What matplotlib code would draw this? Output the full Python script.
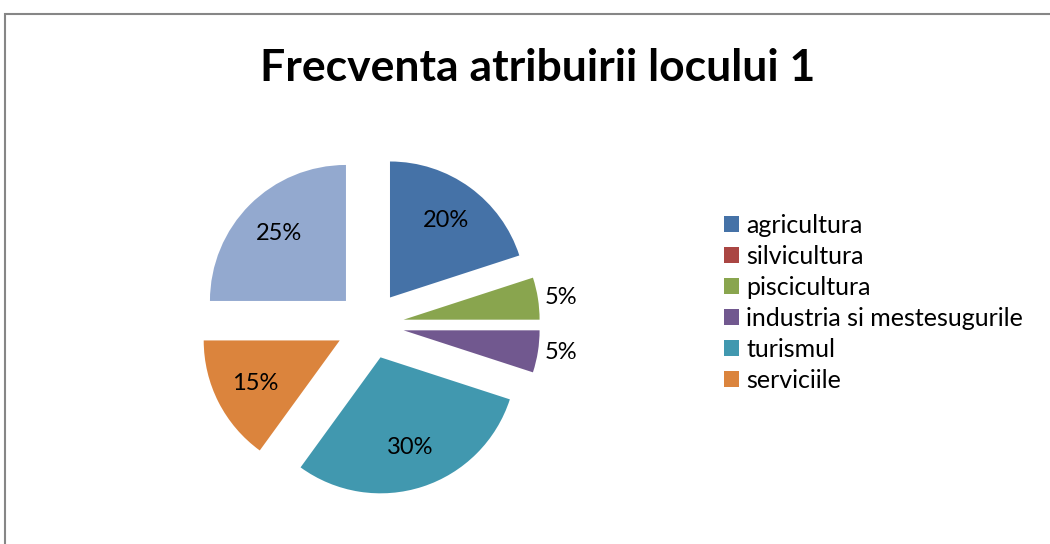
import numpy as np
import matplotlib.pyplot as plt
from matplotlib.patches import Rectangle

categories = ['agricultura', 'silvicultura', 'piscicultura',
              'industria si mestesugurile', 'turismul', 'serviciile', 'altele']
shares = [20, 0, 5, 5, 30, 15, 25]
colors = ['#4572A7', '#AA4643', '#89A54E', '#71588F', '#4198AF', '#DB843D', '#93A9CF']
n_legend = 6  # last category has no legend entry

plt.rcParams['font.family'] = ['Lato', 'DejaVu Sans']

fig = plt.figure(figsize=(10.5, 5.44), dpi=100)
W, H = 1050, 544

# chart frame (runs off the right and bottom edges)
fig.patches.append(Rectangle((5 / W, -0.1), 2, (H - 14) / H + 0.1,
                             transform=fig.transFigure, fill=False,
                             edgecolor='#868686', linewidth=1.5))

fig.text(538 / W, 1 - 68 / H, 'Frecventa atribuirii locului 1',
         ha='center', va='center', fontsize=32, fontweight='bold')

# pie axes: radius 1 -> 136 px, centre at (370, 325) px
cx, cy, half = 370, 325, 272
ax = fig.add_axes([(cx - half) / W, (H - cy - half) / H, 2 * half / W, 2 * half / H])

explode = [0.25] * len(shares)
wedges, texts, autotexts = ax.pie(
    shares, colors=colors, explode=explode, startangle=90, counterclock=False,
    autopct=lambda p: '' if p < 0.5 else f'{p:.0f}%', pctdistance=0.7,
    textprops={'fontsize': 17, 'color': 'black'}, radius=1)
ax.set_xlim(-2, 2)
ax.set_ylim(-2, 2)
ax.axis('off')

# small slices get their labels outside the wedge
for w, t, v in zip(wedges, autotexts, shares):
    if 0 < v < 10:
        mid = np.radians((w.theta1 + w.theta2) / 2)
        r = 1 + 0.25 + 0.05
        t.set_position((r * np.cos(mid), r * np.sin(mid)))
        t.set_ha('left')

fig.legend(wedges[:n_legend], categories[:n_legend],
           loc='upper left', bbox_to_anchor=(724 / W, 1 - 214 / H),
           frameon=False, fontsize=18, handlelength=0.6, handleheight=0.6,
           handletextpad=0.3, labelspacing=0.32, borderaxespad=0, borderpad=0)

fig.savefig('out.png', dpi=100)
